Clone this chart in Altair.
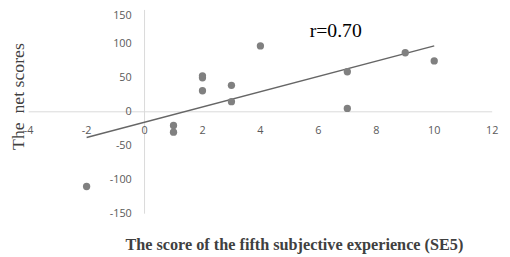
import altair as alt
import pandas as pd

# data
se5 = [-2, 1, 1, 2, 2, 2, 3, 3, 4, 7, 7, 9, 10]
net = [-110, -20, -30, 53, 50, 31, 39, 15, 97, 59, 5, 87, 75]
x_ticks = [-4, -2, 0, 2, 4, 6, 8, 10, 12]
y_ticks = [-150, -100, -50, 0, 50, 100, 150]
r_label = "r=0.70"
x_title = "The score of the fifth subjective experience (SE5)"
y_title = "The\u00a0 net scores"

pts = pd.DataFrame({"x": se5, "y": net})
xt = pd.DataFrame({"x": x_ticks, "y": [0] * len(x_ticks), "t": [str(v) for v in x_ticks]})
yt = pd.DataFrame({"x": [0] * len(y_ticks), "y": y_ticks, "t": [str(v) for v in y_ticks]})
hline = pd.DataFrame({"x": [-4], "x2": [12], "y": [0]})
vline = pd.DataFrame({"x": [0], "y": [-150], "y2": [150]})
ann = pd.DataFrame({"x": [6.6], "y": [119], "t": [r_label]})

W, H = 471, 207
xs = alt.Scale(domain=[-4, 12], nice=False, zero=False)
ys = alt.Scale(domain=[-150, 150], nice=False, zero=False)
X = lambda f="x": alt.X(f"{f}:Q", scale=xs, axis=None)
Y = lambda f="y": alt.Y(f"{f}:Q", scale=ys, axis=None)

axis_col = "#d9d9d9"
lab_col = "#595959"

h = alt.Chart(hline).mark_rule(color=axis_col, strokeWidth=1).encode(
    x=X(), x2="x2:Q", y=Y())
v = alt.Chart(vline).mark_rule(color=axis_col, strokeWidth=1).encode(
    x=X(), y=Y(), y2="y2:Q")

xlab = alt.Chart(xt).mark_text(font="Open Sans", fontSize=11, color=lab_col,
                                align="center", baseline="middle", dy=20).encode(
    x=X(), y=Y(), text="t:N")
ylab = alt.Chart(yt).transform_filter("datum.y < 150").mark_text(
    font="Open Sans", fontSize=11, color=lab_col,
    align="right", baseline="middle", dx=-13).encode(
    x=X(), y=Y(), text="t:N")
ylab_top = alt.Chart(yt).transform_filter("datum.y >= 150").mark_text(
    font="Open Sans", fontSize=11, color=lab_col,
    align="right", baseline="top", dx=-13).encode(
    x=X(), y=Y(), text="t:N")

line = alt.Chart(pts).transform_regression("x", "y").mark_line(
    color="#666666", strokeWidth=1.5).encode(x=X(), y=Y())

dots = alt.Chart(pts).mark_circle(size=55, color="#808080", opacity=1).encode(
    x=X(), y=Y())

rtxt = alt.Chart(ann).mark_text(font="Liberation Serif", fontSize=20, color="black",
                                align="center", baseline="middle").encode(
    x=X(), y=Y(), text="t:N")

xtit = alt.Chart(pd.DataFrame({"t": [x_title]})).mark_text(
    font="Liberation Serif", fontSize=16.5, fontWeight="bold", color="#404040",
    align="center", baseline="middle").encode(
    x=alt.value(270), y=alt.value(239), text="t:N")

ytit = alt.Chart(pd.DataFrame({"t": [y_title]})).mark_text(
    font="Liberation Serif", fontSize=18, color="#404040",
    align="center", baseline="middle", angle=270).encode(
    x=alt.value(-10), y=alt.value(88), text="t:N")

chart = alt.layer(h, v, xlab, ylab, ylab_top, line, dots, rtxt, xtit, ytit).properties(
    width=W, height=H,
    autosize=alt.AutoSizeParams(type="none"),
    padding={"left": 21, "top": 0, "right": 10, "bottom": 39},
).configure_view(stroke=None)

chart.save("out.html", embed_options={"renderer": "svg", "actions": False})
